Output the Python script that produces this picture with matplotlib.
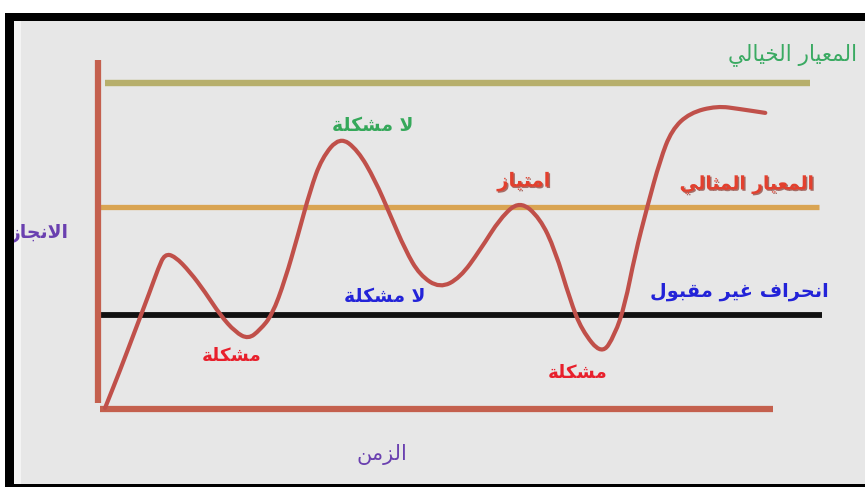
import matplotlib
matplotlib.use("Agg")
import matplotlib.pyplot as plt
from matplotlib.patches import Rectangle, PathPatch
from matplotlib.path import Path
import matplotlib.patheffects as pe

# ---------------- data ----------------
# curve: time (0-100) vs achievement (0-100)
curve_time = [0.7, 2.8, 4.9, 6.9, 8.1, 9.0, 10.4, 12.5, 14.6, 16.7, 18.8, 20.6,
              22.2, 23.9, 25.7, 27.5, 29.2, 30.8, 33.3, 35.8, 38.2, 40.3, 42.4,
              44.4, 47.2, 50.0, 52.8, 55.6, 58.3, 61.1, 63.2, 65.3, 66.9, 69.7,
              71.5, 72.9, 74.3, 76.0, 77.8, 79.4, 81.9, 85.7, 88.9, 92.4]
curve_value = [0.0, 10.9, 22.4, 33.3, 40.2, 44.3, 43.6, 39.1, 33.3, 26.7, 21.8, 19.8,
               22.4, 26.7, 36.8, 49.7, 62.6, 71.8, 78.0, 74.1, 65.5, 55.5, 45.4,
               38.2, 34.4, 37.4, 45.4, 54.6, 59.6, 54.6, 45.4, 31.0, 22.4, 15.2,
               21.0, 29.6, 44.0, 57.8, 71.3, 79.9, 84.8, 86.8, 85.9, 84.8]

# reference levels
level_names = ["المعيار الخيالي", "المعيار المثالي", "انحراف غير مقبول"]
level_values = [93.4, 57.8, 26.7]

# annotations
annot_texts = ["لا مشكلة", "امتياز", "لا مشكلة", "مشكلة", "مشكلة"]
axis_x_label = "الزمن"
axis_y_label = "الانجاز"

# ---------------- Arabic shaping (no bidi engine in matplotlib) ----------------
FORMS = {
    'ا': (0xFE8D, 0xFE8E), 'ب': (0xFE8F, 0xFE90, 0xFE91, 0xFE92),
    'ة': (0xFE93, 0xFE94), 'ت': (0xFE95, 0xFE96, 0xFE97, 0xFE98),
    'ث': (0xFE99, 0xFE9A, 0xFE9B, 0xFE9C), 'ج': (0xFE9D, 0xFE9E, 0xFE9F, 0xFEA0),
    'ح': (0xFEA1, 0xFEA2, 0xFEA3, 0xFEA4), 'خ': (0xFEA5, 0xFEA6, 0xFEA7, 0xFEA8),
    'د': (0xFEA9, 0xFEAA), 'ذ': (0xFEAB, 0xFEAC), 'ر': (0xFEAD, 0xFEAE),
    'ز': (0xFEAF, 0xFEB0), 'س': (0xFEB1, 0xFEB2, 0xFEB3, 0xFEB4),
    'ش': (0xFEB5, 0xFEB6, 0xFEB7, 0xFEB8), 'ع': (0xFEC9, 0xFECA, 0xFECB, 0xFECC),
    'غ': (0xFECD, 0xFECE, 0xFECF, 0xFED0), 'ف': (0xFED1, 0xFED2, 0xFED3, 0xFED4),
    'ق': (0xFED5, 0xFED6, 0xFED7, 0xFED8), 'ك': (0xFED9, 0xFEDA, 0xFEDB, 0xFEDC),
    'ل': (0xFEDD, 0xFEDE, 0xFEDF, 0xFEE0), 'م': (0xFEE1, 0xFEE2, 0xFEE3, 0xFEE4),
    'ن': (0xFEE5, 0xFEE6, 0xFEE7, 0xFEE8), 'ه': (0xFEE9, 0xFEEA, 0xFEEB, 0xFEEC),
    'و': (0xFEED, 0xFEEE), 'ى': (0xFEEF, 0xFEF0),
    'ي': (0xFEF1, 0xFEF2, 0xFEF3, 0xFEF4),
}


def shape(text):
    units = []
    i = 0
    while i < len(text):
        if text[i] == 'ل' and i + 1 < len(text) and text[i + 1] == 'ا':
            units.append('LA')
            i += 2
        else:
            units.append(text[i])
            i += 1

    def is_ar(u):
        return u == 'LA' or u in FORMS

    def dual(u):
        return u in FORMS and len(FORMS[u]) == 4

    out = []
    for k, u in enumerate(units):
        prev = units[k - 1] if k > 0 else None
        nxt = units[k + 1] if k + 1 < len(units) else None
        jp = prev is not None and dual(prev)
        if u == 'LA':
            out.append(chr(0xFEFC if jp else 0xFEFB))
            continue
        if u not in FORMS:
            out.append(u)
            continue
        f = FORMS[u]
        jn = dual(u) and nxt is not None and is_ar(nxt)
        if jp and jn:
            c = f[3]
        elif jp:
            c = f[1]
        elif jn:
            c = f[2]
        else:
            c = f[0]
        out.append(chr(c))
    return ''.join(reversed(out))


# ---------------- figure ----------------
W, H = 865, 487
fig = plt.figure(figsize=(W / 100, H / 100), dpi=100)
fig.patch.set_facecolor('white')

# pixel mapping: x_px = 100 + t*7.2, y_px = 408 - a*3.48
ax = fig.add_axes([0, 0, 1, 1])
ax.set_zorder(1)
ax.set_xlim((0 - 100) / 7.2, (W - 100) / 7.2)
ax.set_ylim((408 - H) / 3.48, (408 - 0) / 3.48)
ax.axis('off')


def fr(x0, y0, x1, y1, color, z):
    ax.add_patch(Rectangle((x0 / W, 1 - y1 / H), (x1 - x0) / W, (y1 - y0) / H,
                           transform=fig.transFigure, facecolor=color, zorder=z,
                           linewidth=0, clip_on=False))

fr(14, 13, W, H, '#e7e7e7', 0)
fr(14, 21, 21, 484, '#f4f4f4', 0.5)
fr(5, 13, W, 21, 'black', 10)
fr(5, 13, 14, H, 'black', 10)
fr(5, 484, W, H, 'black', 10)

AXC = '#c4604e'
CUR = '#c0504a'
level_colors = ['#b7af6c', '#d9a452', '#111111']
level_spans = [(0.7, 98.6), (0.0, 99.9), (0.0, 100.3)]
level_lw = [4.6, 3.8, 4.2]

# axes lines
ax.plot([-0.3, -0.3], [1.5, 100], color=AXC, lw=4.5, solid_capstyle='butt', zorder=3)
ax.plot([0.0, 93.5], [-0.3, -0.3], color=AXC, lw=4.5, solid_capstyle='butt', zorder=3)

# reference level lines
for v, c, (s, e), lw in zip(level_values, level_colors, level_spans, level_lw):
    ax.plot([s, e], [v, v], color=c, lw=lw, solid_capstyle='butt', zorder=2)

# curve: smooth quadratic-Bezier path through the read points
pts = list(zip(curve_time, curve_value))
verts = [pts[0]]
codes = [Path.MOVETO]
# sharp start: straight rise to the first peak region
verts.append(((pts[0][0] + pts[1][0]) / 2, (pts[0][1] + pts[1][1]) / 2))
codes.append(Path.LINETO)
for k in range(1, len(pts) - 1):
    mid = ((pts[k][0] + pts[k + 1][0]) / 2, (pts[k][1] + pts[k + 1][1]) / 2)
    verts += [pts[k], mid]
    codes += [Path.CURVE3, Path.CURVE3]
verts.append(pts[-1])
codes.append(Path.LINETO)
ax.add_patch(PathPatch(Path(verts, codes), facecolor='none', edgecolor=CUR,
                       lw=3.0, capstyle='round', joinstyle='round', zorder=4))

FAM = ['DejaVu Sans']
shadow = [pe.withSimplePatchShadow(offset=(1, -1), shadow_rgbFace='#7a1a10', alpha=0.6)]

# level labels
ax.text(105.1, 101.7, shape(level_names[0]), color='#3aaa62', fontsize=15.5,
        ha='right', va='center', family=FAM, zorder=6)
ax.text(89.9, 64.1, shape(level_names[1]), color='#e3402e', fontsize=13.4,
        fontweight='bold', ha='center', va='center', family=FAM, zorder=6,
        path_effects=shadow)
ax.text(88.8, 33.6, shape(level_names[2]), color='#2323d8', fontsize=13.9,
        fontweight='bold', ha='center', va='center', family=FAM, zorder=6)

# annotations
ax.text(37.9, 81.3, shape(annot_texts[0]), color='#35a85a', fontsize=13.5,
        fontweight='bold', ha='center', va='center', family=FAM, zorder=6)
ax.text(58.9, 64.9, shape(annot_texts[1]), color='#e3402e', fontsize=14,
        fontweight='bold', ha='center', va='center', family=FAM, zorder=6,
        path_effects=shadow)
ax.text(39.6, 31.9, shape(annot_texts[2]), color='#2323d8', fontsize=13.5,
        fontweight='bold', ha='center', va='center', family=FAM, zorder=6)
ax.text(18.3, 14.9, shape(annot_texts[3]), color='#e8202c', fontsize=13.2,
        fontweight='bold', ha='center', va='center', family=FAM, zorder=6)
ax.text(66.4, 10.1, shape(annot_texts[4]), color='#e8202c', fontsize=13.2,
        fontweight='bold', ha='center', va='center', family=FAM, zorder=6)

# axis labels
ax.text(-4.4, 50.0, shape(axis_y_label), color='#6a40b0', fontsize=13.5,
        fontweight='bold', ha='right', va='center', family=FAM, zorder=6)
ax.text(39.2, -13.5, shape(axis_x_label), color='#6a40b0', fontsize=15,
        ha='center', va='center', family=FAM, zorder=6)

fig.savefig('out.png', dpi=100, facecolor=fig.get_facecolor())
